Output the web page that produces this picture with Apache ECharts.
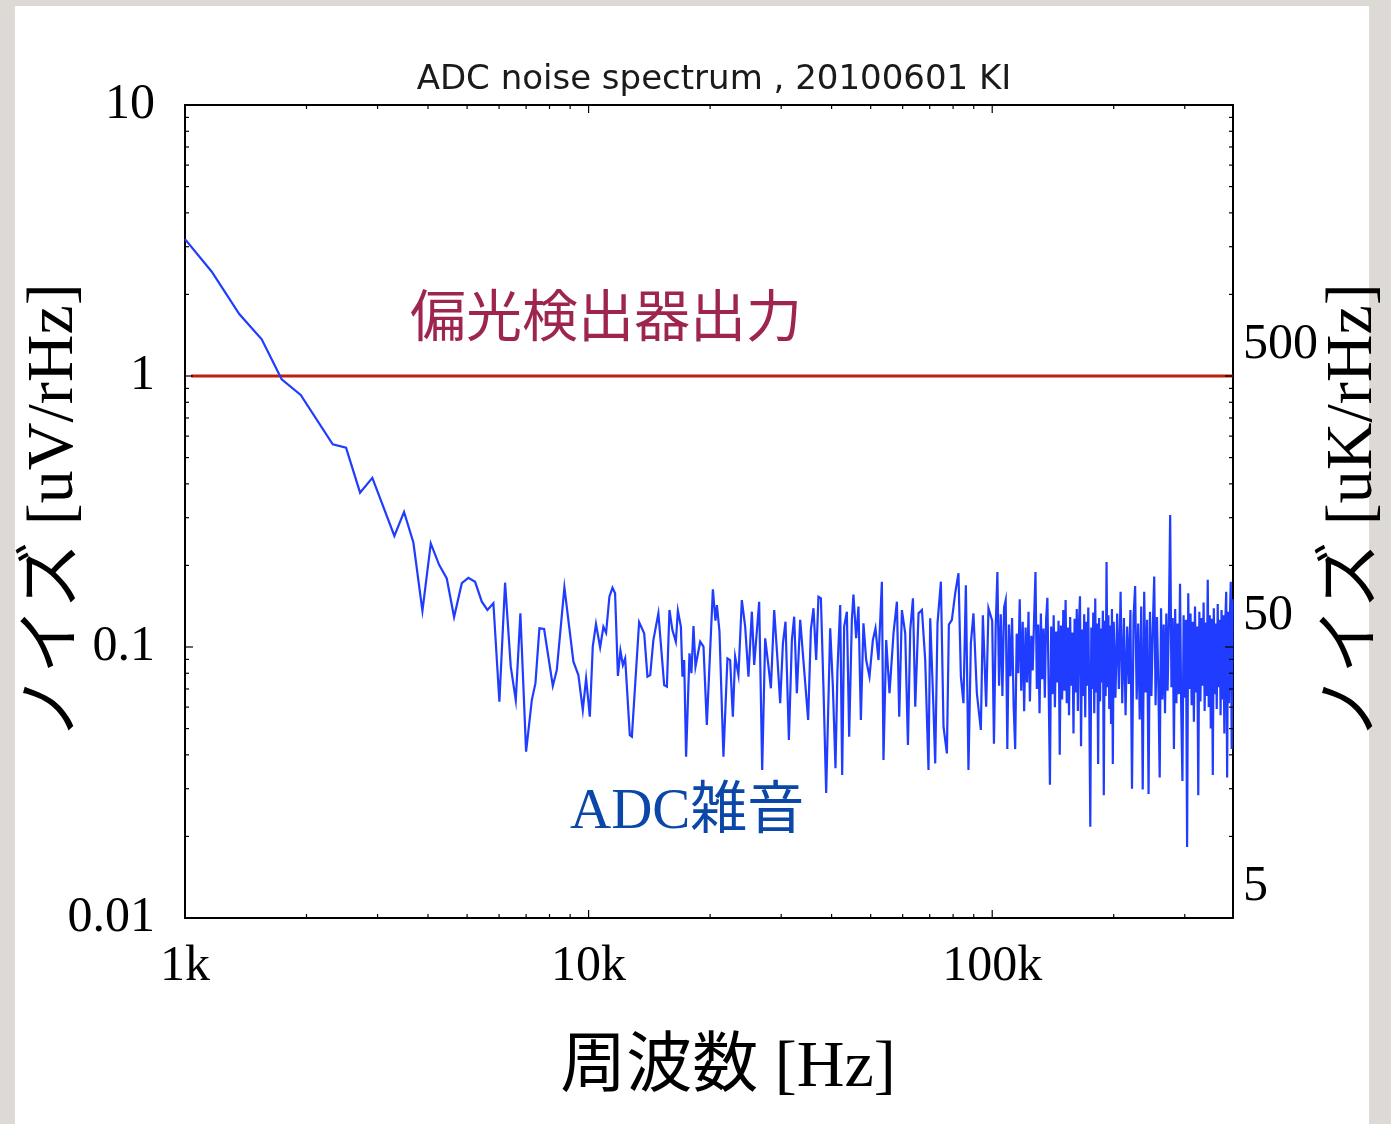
<!DOCTYPE html>
<html>
<head>
<meta charset="utf-8">
<title>ADC noise spectrum</title>
<script src="https://cdn.jsdelivr.net/npm/echarts@6/dist/echarts.min.js"></script>
<style>
    html, body { margin: 0; padding: 0; background: #dddad5; }
    #main { width: 1391px; height: 1124px; }
</style>
</head>
<body>
<div id="main"></div>
<script>
// frequency in kHz, noise in uV/rHz
const lowFreq = [1.0, 1.165, 1.363, 1.549, 1.736, 1.935, 2.323, 2.506, 2.715, 2.912, 3.302, 3.489,
    3.680, 3.875, 4.064, 4.262, 4.452, 4.642, 4.851, 5.036, 5.233, 5.437, 5.614, 5.809];
const lowNoise = [3.2, 2.426, 1.693, 1.366, 0.972, 0.851, 0.560, 0.544, 0.371, 0.421, 0.257, 0.315,
    0.243, 0.136, 0.241, 0.201, 0.179, 0.129, 0.172, 0.180, 0.174, 0.147, 0.137, 0.145];

const midFreq = [6.011, 6.209, 6.414, 6.600, 6.776, 7.000, 7.232, 7.383, 7.553, 7.758, 8.153, 8.341,
    8.710, 9.170, 9.434, 9.674, 9.858, 10.07, 10.24, 10.43, 10.68, 10.88, 11.05, 11.26, 11.46, 11.63,
    11.82, 11.99, 12.16, 12.32, 12.65, 12.80, 13.34, 13.73, 13.99, 14.21, 14.47, 14.89, 15.39, 15.63,
    15.86, 16.13, 16.45, 16.64, 16.93, 17.08, 17.25, 17.44, 17.78, 17.98, 18.19, 18.40, 18.90, 19.26,
    19.63, 20.32, 20.62, 20.79, 21.10, 21.58, 22.08, 22.42, 22.77, 23.07, 23.51];
const midNoise = [0.0628, 0.1727, 0.0846, 0.0637, 0.1331, 0.0411, 0.0637, 0.0734, 0.1172, 0.1165, 0.0718, 0.0823,
    0.1661, 0.0883, 0.0788, 0.0585, 0.0766, 0.0553, 0.1003, 0.1216, 0.0997, 0.1188, 0.1129, 0.1533, 0.1655, 0.1578,
    0.0782, 0.0969, 0.0858, 0.0908, 0.0473, 0.0467, 0.1234, 0.1123, 0.0777, 0.0788, 0.1061, 0.1331, 0.0724, 0.0714,
    0.1369, 0.1155, 0.1046, 0.1361, 0.1188, 0.0777, 0.0895, 0.0394, 0.0948, 0.0800, 0.1195, 0.0846, 0.1046, 0.1003,
    0.0516, 0.1633, 0.1250, 0.1429, 0.1139, 0.0394, 0.0908, 0.0895, 0.0553, 0.0921, 0.0788];

const highFreq = [23.97, 24.43, 24.89, 25.38, 25.72, 26.46, 26.92, 27.38, 27.91, 28.29, 28.83, 29.38,
    29.83, 30.30, 30.75, 31.35, 31.89, 32.31, 32.81, 33.44, 34.21, 34.99, 35.54, 36.07, 36.63, 37.11,
    37.63, 38.18, 38.78, 39.68, 40.29, 40.90, 41.36, 42.01, 42.49, 42.97, 43.64, 44.22, 44.90, 45.31,
    46.02, 46.63, 47.27, 47.97, 48.72, 49.65, 50.62, 51.38, 52.27, 53.29, 53.78, 54.62, 55.66, 56.94,
    58.06, 58.83, 59.74, 60.88, 61.83, 62.65, 63.62, 64.46, 65.69, 66.97, 68.23, 69.53, 70.21, 71.55,
    72.24, 73.19, 74.62, 75.74, 77.22, 78.10, 79.45, 80.96, 82.49, 83.63, 84.87, 86.04, 87.33, 88.53,
    89.85, 91.62, 93.73, 94.80, 96.62, 97.89];
const highNoise = [0.149, 0.1188, 0.0777, 0.135, 0.0858, 0.1469, 0.0352, 0.1077, 0.0846, 0.0704, 0.1369, 0.0895,
    0.062, 0.1032, 0.124, 0.0454, 0.1061, 0.1294, 0.0675, 0.126, 0.0822, 0.0538, 0.1156, 0.139, 0.0895, 0.1533,
    0.1512, 0.0714, 0.0289, 0.1172, 0.0714, 0.0357, 0.0822, 0.1429, 0.0337, 0.1188, 0.135, 0.0467, 0.126, 0.156,
    0.1077, 0.1409, 0.0538, 0.1223, 0.0895, 0.0777, 0.1061, 0.1172, 0.0895, 0.1742, 0.0383, 0.1061, 0.0675, 0.1123,
    0.1469, 0.0553, 0.1369, 0.1123, 0.0435, 0.1156, 0.1512, 0.0602, 0.1331, 0.1369, 0.0895, 0.0352, 0.1276, 0.0585,
    0.0372, 0.1223, 0.1742, 0.0508, 0.0405, 0.1210, 0.126, 0.1578, 0.1871, 0.0777, 0.062, 0.169, 0.0352, 0.1032,
    0.1331, 0.0675, 0.0494, 0.131, 0.0602, 0.139];

const denseFreq = [100, 101, 102, 103, 104, 105, 106, 107, 108, 109, 110, 111, 112, 113, 114, 115, 116, 117, 118, 119,
    120, 121, 122, 123, 124, 125, 126, 127, 128, 129, 130, 131, 132, 133, 134, 135, 136, 137, 138, 139,
    140, 141, 142, 143, 144, 145, 146, 147, 148, 149, 150, 151, 152, 153, 154, 155, 156, 157, 158, 159,
    160, 161, 162, 163, 164, 165, 166, 167, 168, 169, 170, 171, 172, 173, 174, 175, 176, 177, 178, 179,
    180, 181, 182, 183, 184, 185, 186, 187, 188, 189, 190, 191, 192, 193, 194, 195, 196, 197, 198, 199,
    200, 202, 204, 206, 208, 210, 212, 214, 216, 218, 220, 222, 224, 226, 228, 230, 232, 234, 236, 238,
    240, 242, 244, 246, 248, 250, 252, 254, 256, 258, 260, 262, 264, 266, 268, 270, 272, 274, 276, 278,
    280, 282, 284, 286, 288, 290, 292, 294, 296, 298, 300, 302, 304, 306, 308, 310, 312, 314, 316, 318,
    320, 322, 324, 326, 328, 330, 332, 334, 336, 338, 340, 342, 344, 346, 348, 350, 352, 354, 356, 358,
    360, 362, 364, 366, 368, 370, 372, 374, 376, 378, 380, 382, 384, 386, 388, 390, 392, 394];
const denseNoise = [0.125, 0.044, 0.118, 0.189, 0.072, 0.132, 0.066, 0.140, 0.149, 0.042, 0.121, 0.078, 0.128, 0.061, 0.042, 0.112, 0.080, 0.150, 0.069, 0.124,
    0.058, 0.118, 0.074, 0.135, 0.063, 0.110, 0.082, 0.128, 0.189, 0.070, 0.121, 0.057, 0.133, 0.076, 0.117, 0.065, 0.126, 0.152, 0.071, 0.031,
    0.119, 0.067, 0.131, 0.060, 0.114, 0.074, 0.125, 0.040, 0.120, 0.064, 0.137, 0.069, 0.149, 0.062, 0.118, 0.056, 0.129, 0.072, 0.113, 0.048,
    0.127, 0.068, 0.138, 0.058, 0.121, 0.154, 0.043, 0.116, 0.066, 0.132, 0.055, 0.124, 0.072, 0.140, 0.061, 0.0217, 0.118, 0.070, 0.134, 0.057,
    0.151, 0.068, 0.122, 0.037, 0.128, 0.063, 0.117, 0.074, 0.136, 0.0284, 0.125, 0.066, 0.206, 0.071, 0.131, 0.059, 0.120, 0.052, 0.138, 0.037,
    0.124, 0.065, 0.133, 0.070, 0.160, 0.062, 0.128, 0.056, 0.119, 0.073, 0.137, 0.030, 0.130, 0.168, 0.064, 0.122, 0.054, 0.141, 0.0298, 0.160,
    0.068, 0.126, 0.0287, 0.135, 0.066, 0.118, 0.182, 0.061, 0.129, 0.073, 0.033, 0.139, 0.064, 0.121, 0.057, 0.133, 0.069, 0.126, 0.307, 0.071,
    0.128, 0.042, 0.138, 0.062, 0.122, 0.067, 0.171, 0.058, 0.032, 0.131, 0.065, 0.126, 0.0183, 0.158, 0.070, 0.133, 0.061, 0.124, 0.053, 0.141,
    0.068, 0.119, 0.0284, 0.135, 0.063, 0.128, 0.072, 0.146, 0.058, 0.123, 0.066, 0.177, 0.060, 0.131, 0.050, 0.127, 0.0337, 0.139, 0.067, 0.122,
    0.059, 0.144, 0.071, 0.126, 0.056, 0.137, 0.064, 0.131, 0.048, 0.123, 0.160, 0.033, 0.135, 0.062, 0.129, 0.174, 0.042, 0.150];

// detector output level (red line)
const detectorLevel = 1;
const detectorFreq = [1.035, 395];

// axis ticks
const xMajorTicks = [1, 10, 100];
const xMinorTicks = [2, 3, 4, 5, 6, 7, 8, 9, 20, 30, 40, 50, 60, 70, 80, 90, 200, 300];
const yMajorTicks = [0.01, 0.1, 1, 10];
const yMinorTicks = [0.02, 0.03, 0.04, 0.05, 0.06, 0.07, 0.08, 0.09, 0.2, 0.3, 0.4, 0.5, 0.6, 0.7, 0.8, 0.9,
    2, 3, 4, 5, 6, 7, 8, 9];
// right axis: uK/rHz, labels 5 / 50 / 500 (axis runs in units of 5 uK)
const uKperuV = 384;
const rightStep = 5;

function zip(a, b) {
    return a.map((v, i) => [v, b[i]]);
}

const noiseData = [].concat(
    zip(lowFreq, lowNoise),
    zip(midFreq, midNoise),
    zip(highFreq, highNoise),
    zip(denseFreq, denseNoise)
);

const serif = "'Liberation Serif', 'Times New Roman', 'Noto Sans CJK JP'";
const tickStyle = { stroke: '#000', lineWidth: 1.2 };

function xTickItem(params, api) {
    const cs = params.coordSys;
    const x = api.coord([api.value(0), 1])[0];
    const len = api.value(2);
    const bottom = cs.y + cs.height;
    return {
        type: 'group',
        children: [
            { type: 'line', shape: { x1: x, y1: bottom, x2: x, y2: bottom - len }, style: tickStyle },
            { type: 'line', shape: { x1: x, y1: cs.y, x2: x, y2: cs.y + len }, style: tickStyle }
        ]
    };
}

function yTickItem(params, api) {
    const cs = params.coordSys;
    const y = api.coord([1, api.value(1)])[1];
    const len = api.value(2);
    const right = cs.x + cs.width;
    return {
        type: 'group',
        children: [
            { type: 'line', shape: { x1: cs.x, y1: y, x2: cs.x + len, y2: y }, style: tickStyle },
            { type: 'line', shape: { x1: right, y1: y, x2: right - len, y2: y }, style: tickStyle }
        ]
    };
}

const xTickData = xMajorTicks.map(v => [v, 1, 8]).concat(xMinorTicks.map(v => [v, 1, 4]));
const yTickData = yMajorTicks.map(v => [1, v, 8]).concat(yMinorTicks.map(v => [1, v, 4]));

const gridLine = {
    show: true, showMinLine: false, showMaxLine: false,
    lineStyle: { color: '#808080', type: [2, 5], width: 1 }
};

const chart = echarts.init(document.getElementById('main'));
chart.setOption({
    backgroundColor: '#dddad5',
    animation: false,
    title: {
        text: 'ADC noise spectrum , 20100601 KI',
        left: 709,
        top: 58,
        textAlign: 'center',
        textStyle: { fontFamily: 'DejaVu Sans', fontSize: 34, fontWeight: 'normal', color: '#1a1a1a' }
    },
    grid: {
        left: 185, top: 105, width: 1048, height: 813,
        outerBoundsMode: 'none', containLabel: false,
        show: true, borderColor: '#000', borderWidth: 2, backgroundColor: '#fff', z: 1
    },
    xAxis: {
        type: 'log', logBase: 10, min: 1, max: 395,
        name: '周波数 [Hz]', nameLocation: 'middle', nameGap: 118,
        nameTextStyle: { fontFamily: serif, fontSize: 66, color: '#000', padding: [0, 0, 0, 38] },
        axisLine: { show: false },
        axisTick: { show: false },
        minorTick: { show: false },
        axisLabel: {
            formatter: v => v + 'k', showMaxLabel: false,
            fontFamily: serif, fontSize: 50, color: '#000', margin: 24
        },
        splitLine: gridLine
    },
    yAxis: [{
        type: 'log', logBase: 10, min: 0.01, max: 10,
        name: 'ノイズ [uV/rHz]', nameLocation: 'middle', nameRotate: 90, nameGap: 97,
        nameMoveOverlap: false,
        nameTextStyle: { fontFamily: serif, fontSize: 66, color: '#000' },
        axisLine: { show: false },
        axisTick: { show: false },
        axisLabel: {
            formatter: v => String(+(+v).toPrecision(6)),
            fontFamily: serif, fontSize: 50, color: '#000', margin: 30
        },
        splitLine: gridLine
    }, {
        type: 'log', logBase: 10, position: 'right',
        min: 0.01 * uKperuV / rightStep, max: 10 * uKperuV / rightStep,
        name: 'ノイズ [uK/rHz]', nameLocation: 'middle', nameRotate: 90, nameGap: 88,
        nameMoveOverlap: false,
        nameTextStyle: { fontFamily: serif, fontSize: 66, color: '#000' },
        axisLine: { show: false },
        axisTick: { show: false },
        splitLine: { show: false },
        axisLabel: {
            formatter: v => String(Math.round(v * rightStep)),
            showMinLabel: false, showMaxLabel: false,
            fontFamily: serif, fontSize: 50, color: '#000', margin: 10
        }
    }],
    graphic: [
        { type: 'rect', z: -100, silent: true, shape: { x: 15, y: 6, width: 1354, height: 1118 }, style: { fill: '#fff' } },
        {
            type: 'text', left: 410, top: 287, z: 100,
            style: { text: '偏光検出器出力', font: "56px 'Noto Sans CJK JP'", fill: '#9e2550' }
        },
        {
            type: 'text', left: 570, top: 785, z: 100,
            style: { text: 'ADC雑音', font: "57px " + serif, fill: '#0a47a8' }
        }
    ],
    series: [{
        name: '偏光検出器出力', type: 'line', z: 3,
        data: detectorFreq.map(f => [f, detectorLevel]),
        showSymbol: false, symbol: 'none',
        lineStyle: { color: '#bf1f0a', width: 3 }
    }, {
        name: 'ADC雑音', type: 'line', z: 4,
        data: noiseData,
        showSymbol: false, symbol: 'none',
        lineStyle: { color: '#1f3cff', width: 2.2, join: 'miter' }
    }, {
        type: 'custom', z: 5, silent: true,
        renderItem: xTickItem, data: xTickData
    }, {
        type: 'custom', z: 5, silent: true,
        renderItem: yTickItem, data: yTickData
    }]
});
</script>
</body>
</html>
